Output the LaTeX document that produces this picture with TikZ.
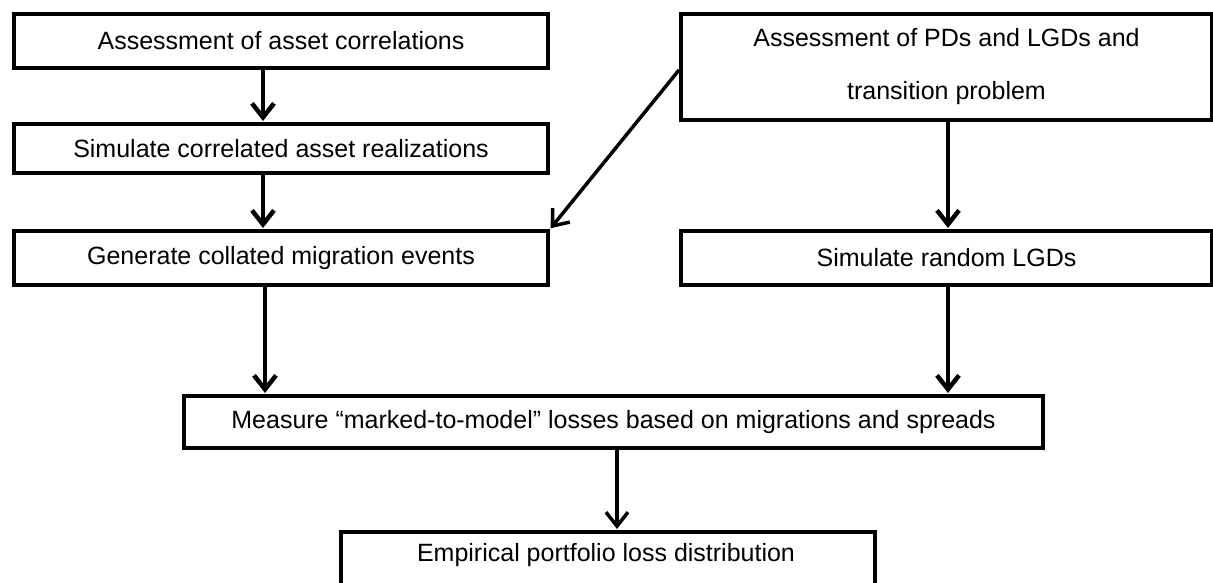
\documentclass[tikz,border=0pt]{standalone}
\usepackage{fontspec}
\setmainfont{Liberation Sans}
\usetikzlibrary{arrows.meta}

\tikzset{
  stepbox/.style={draw, line width=4pt, rectangle, anchor=north west,
    inner sep=0pt, align=center, font=\fontsize{25}{53}\selectfont},
  steptext/.style={inner sep=0pt, font=\fontsize{25}{30}\selectfont},
  flow/.style={line width=4.5pt, -{Straight Barb[length=14pt,width=22pt]}, shorten >=1pt},
  thinflow/.style={line width=3.5pt, -{Straight Barb[length=14pt,width=22pt]}, shorten >=1pt}
}

\begin{document}
\begin{tikzpicture}[x=1pt, y=-1pt]
  \useasboundingbox (0,0) rectangle (1213,582);
  \clip (0,0) rectangle (1213,582);
  \fill[white] (0,0) rectangle (1213,582);

  % left column
  \node[stepbox, minimum width=534pt, minimum height=54pt] (a1) at (12,12)
    {Assessment of asset correlations};
  \node[stepbox, minimum width=534pt, minimum height=49pt] (a2) at (12,122)
    {Simulate correlated asset realizations};
  \node[stepbox, minimum width=534pt, minimum height=54pt] (a3) at (12,229)
    {Generate collated migration events};

  % right column
  \node[stepbox, minimum width=531pt, minimum height=106pt] (b1) at (679,12)
    {Assessment of PDs and LGDs and\\transition problem};
  \node[stepbox, minimum width=531pt, minimum height=54pt] (b2) at (679,229)
    {Simulate random LGDs};

  % merge and result (the result box runs past the lower edge)
  \node[stepbox, minimum width=859pt, minimum height=52pt] (m) at (182,394)
    {Measure “marked-to-model” losses based on migrations and spreads};
  \node[stepbox, minimum width=534pt, minimum height=90pt] (e) at (339,530) {};
  \node[steptext] (etext) at (606,555) {Empirical portfolio loss distribution};

  % connector columns
  \coordinate (cl) at (263,0);
  \coordinate (cm) at (265,0);
  \coordinate (cr) at (948,0);
  \coordinate (cc) at (617,0);
  \coordinate (dstart) at (679,70);

  \draw[flow] (a1.south -| cl) -- (a2.north -| cl);
  \draw[flow] (a2.south -| cl) -- (a3.north -| cl);
  \draw[flow] (a3.south -| cm) -- (m.north -| cm);
  \draw[flow] (b1.south -| cr) -- (b2.north -| cr);
  \draw[flow] (b2.south -| cr) -- (m.north -| cr);
  \draw[thinflow] (dstart) -- (a3.north east);
  \draw[thinflow] (m.south -| cc) -- (e.north -| cc);
\end{tikzpicture}
\end{document}
